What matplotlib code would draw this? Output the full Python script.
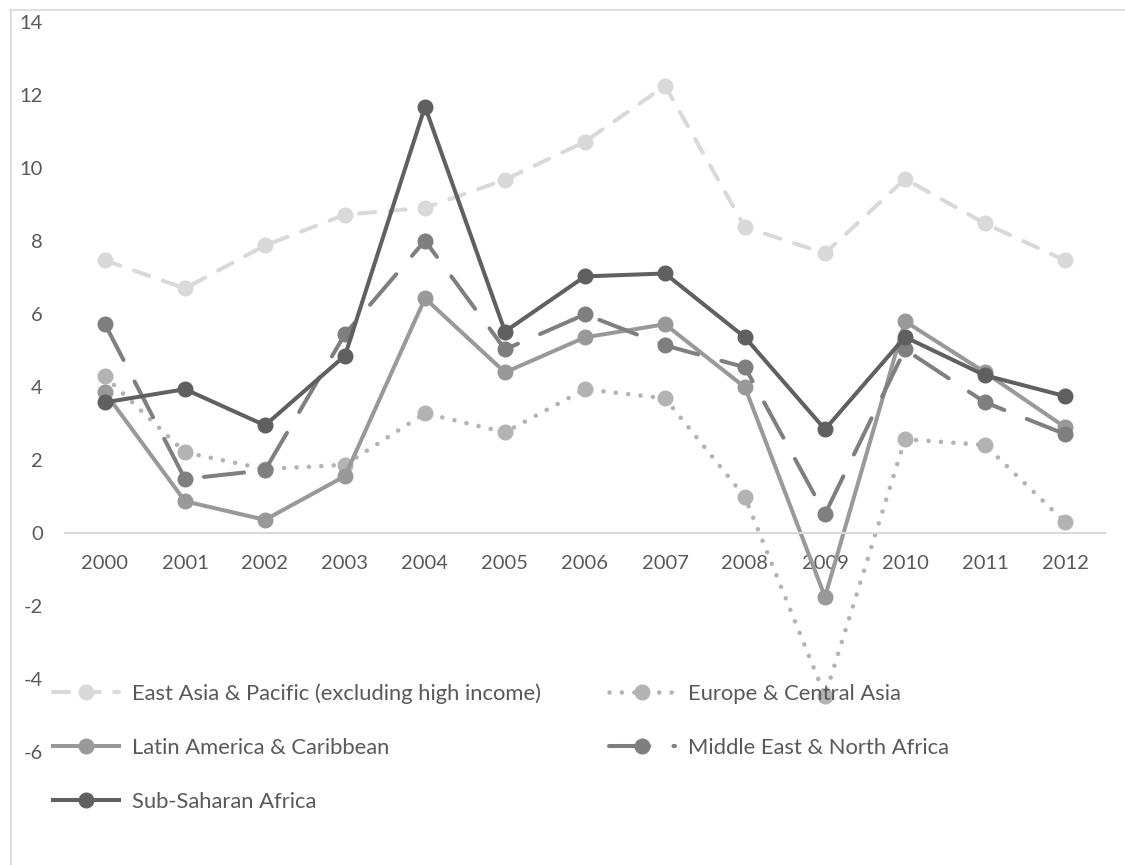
import matplotlib
matplotlib.use("Agg")
import matplotlib.pyplot as plt
from matplotlib.lines import Line2D

plt.rcParams["font.family"] = ["Lato", "DejaVu Sans"]

# ── Data: annual GDP growth (%) by region ─────────────────────
years = ["2000", "2001", "2002", "2003", "2004", "2005", "2006",
         "2007", "2008", "2009", "2010", "2011", "2012"]

east_asia = [7.47, 6.70, 7.88, 8.72, 8.91, 9.68, 10.72, 12.25, 8.38, 7.66, 9.70, 8.48, 7.47]
europe_ca = [4.29, 2.21, 1.75, 1.87, 3.28, 2.76, 3.94, 3.69, 0.98, -4.46, 2.57, 2.41, 0.30]
latin_am  = [3.85, 0.87, 0.36, 1.56, 6.43, 4.40, 5.36, 5.72, 3.99, -1.75, 5.80, 4.40, 2.90]
mena      = [5.72, 1.48, 1.72, 5.45, 8.01, 5.03, 5.99, 5.14, 4.54, 0.52, 5.03, 3.58, 2.71]
ssa       = [3.58, 3.94, 2.95, 4.86, 11.68, 5.52, 7.03, 7.11, 5.36, 2.84, 5.37, 4.32, 3.75]

labels = ["East Asia & Pacific (excluding high income)",
          "Europe & Central Asia",
          "Latin America & Caribbean",
          "Middle East & North Africa",
          "Sub-Saharan Africa"]

TEXT = "#595959"
GRID = "#D9D9D9"

W, H = 1125, 865
fig = plt.figure(figsize=(W / 100, H / 100), dpi=100)
fig.patch.set_facecolor("white")

# chart border (top and left edges)
fig.add_artist(Line2D([10 / W, 1], [1 - 10 / H, 1 - 10 / H], color=GRID, lw=1.2,
                      transform=fig.transFigure))
fig.add_artist(Line2D([10.5 / W, 10.5 / W], [0, 1 - 10 / H], color=GRID, lw=1.2,
                      transform=fig.transFigure))

ax = fig.add_axes([65 / W, (H - 752) / H, (1105 - 65) / W, (752 - 22) / H])
ax.set_facecolor("none")

x = list(range(len(years)))
lw = 2.9
ms = 10.5

l_ea, = ax.plot(x, east_asia, color="#D9D9D9", lw=lw, ls=(0, (4.0, 3.6)),
                dash_capstyle="round", marker="o", ms=ms, label=labels[0])
l_eu, = ax.plot(x, europe_ca, color="#B3B3B3", lw=lw + 0.4, ls=(0, (0.01, 2.7)),
                dash_capstyle="round", marker="o", ms=ms, label=labels[1])
l_la, = ax.plot(x, latin_am, color="#999999", lw=lw, ls="-",
                marker="o", ms=ms, label=labels[2])
l_me, = ax.plot(x, mena, color="#7F7F7F", lw=lw, ls=(0, (10, 6)),
                dash_capstyle="round", marker="o", ms=ms, label=labels[3])
l_ss, = ax.plot(x, ssa, color="#606060", lw=lw, ls="-",
                marker="o", ms=ms, label=labels[4])

ax.set_xlim(-0.5, len(years) - 0.5)
ax.set_ylim(-6, 14)
ax.set_yticks(range(-6, 15, 2))
ax.set_yticklabels([str(v) for v in range(-6, 15, 2)])
ax.set_xticks(x)
ax.set_xticklabels(years)

for side in ("top", "right", "left"):
    ax.spines[side].set_visible(False)
ax.spines["bottom"].set_position(("data", 0))
ax.spines["bottom"].set_color(GRID)
ax.spines["bottom"].set_linewidth(1.5)

ax.tick_params(axis="both", length=0, labelsize=14.5, labelcolor=TEXT)
ax.tick_params(axis="y", pad=16)
ax.tick_params(axis="x", pad=16)

# legend: row-wise order across two columns
handles = [l_ea, l_la, l_ss, l_eu, l_me]
fig.legend(handles, [h.get_label() for h in handles], ncol=2,
           loc="upper left", bbox_to_anchor=(42 / W, 1 - 672 / H),
           frameon=False, fontsize=15.8, labelcolor=TEXT, borderpad=0,
           handlelength=3.0, handletextpad=0.6, columnspacing=3.1,
           labelspacing=1.55)

fig.savefig("out.png", dpi=100, facecolor="white")
